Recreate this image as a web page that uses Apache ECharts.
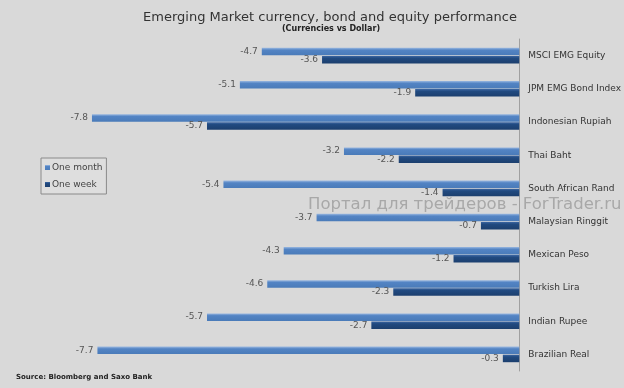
<!DOCTYPE html>
<html>
<head>
<meta charset="utf-8">
<script src="https://cdn.jsdelivr.net/npm/echarts@6/dist/echarts.min.js"></script>
<style>
html,body{margin:0;padding:0;background:#d9d9d9;}
#c{width:624px;height:388px;}
</style>
</head>
<body>
<div id="c"></div>
<script>
var categories = ['MSCI EMG Equity','JPM EMG Bond Index','Indonesian Rupiah','Thai Baht','South African Rand','Malaysian Ringgit','Mexican Peso','Turkish Lira','Indian Rupee','Brazilian Real'];
var oneMonth = [-4.7,-5.1,-7.8,-3.2,-5.4,-3.7,-4.3,-4.6,-5.7,-7.7];
var oneWeek = [-3.6,-1.9,-5.7,-2.2,-1.4,-0.7,-1.2,-2.3,-2.7,-0.3];
var seriesNames = ['One month','One week'];

var chart = echarts.init(document.getElementById('c'), null, {renderer:'canvas'});
var font = 'DejaVu Sans';
function grad(top, mid, bot){
  return new echarts.graphic.LinearGradient(0,0,0,1,[{offset:0,color:top},{offset:0.3,color:mid},{offset:1,color:bot}]);
}
var labelStyle = {show:true, position:'left', distance:4, color:'#555', fontSize:9, fontFamily:font,
  formatter:function(p){return p.value.toFixed(1);}};
chart.setOption({
  backgroundColor:'#d9d9d9',
  animation:false,
  title:[
    {text:'Emerging Market currency, bond and equity performance', left:325, textAlign:'center', top:6,
     textStyle:{fontFamily:font, fontSize:13, fontWeight:'normal', color:'#333'}},
    {text:'(Currencies vs Dollar)', left:326, textAlign:'center', top:20,
     textStyle:{fontFamily:font, fontSize:8, fontWeight:'bold', color:'#222'}},
    {text:'Source: Bloomberg and Saxo Bank', left:11, top:369,
     textStyle:{fontFamily:font, fontSize:7, fontWeight:'bold', color:'#222'}}
  ],
  legend:{
    orient:'vertical', left:41, top:158, itemWidth:5, itemHeight:5, itemGap:8, padding:[5,4,5,4],
    borderColor:'#8a8a8a', borderWidth:1, backgroundColor:'#dedede',
    textStyle:{fontFamily:font, fontSize:9, color:'#444', padding:[0,0,0,-3]},
    icon:'rect',
    data:seriesNames
  },
  grid:{left:81, right:99, top:39, bottom:17},
  xAxis:{type:'value', min:-8, max:0, show:false},
  yAxis:{type:'category', data:categories, inverse:true, position:'right',
    axisLine:{show:true, lineStyle:{color:'#a0a0a0'}}, axisTick:{show:false},
    axisLabel:{margin:9, fontFamily:font, fontSize:9, color:'#333'}},
  graphic:[{type:'text', left:308, top:196, z:10,
    style:{text:'Портал для трейдеров - ForTrader.ru', fill:'#a8a8a8', font:'16.5px "DejaVu Sans"'}}],
  series:[
    {name:seriesNames[0], type:'bar', data:oneMonth, barWidth:7.5, barGap:'8%',
     itemStyle:{color:grad('#9ab8e0','#5384c4','#4a7bb9')}, label:labelStyle},
    {name:seriesNames[1], type:'bar', data:oneWeek, barWidth:7.5,
     itemStyle:{color:grad('#3d67a3','#214a80','#1c3f6e')}, label:labelStyle}
  ]
});
</script>
</body>
</html>
